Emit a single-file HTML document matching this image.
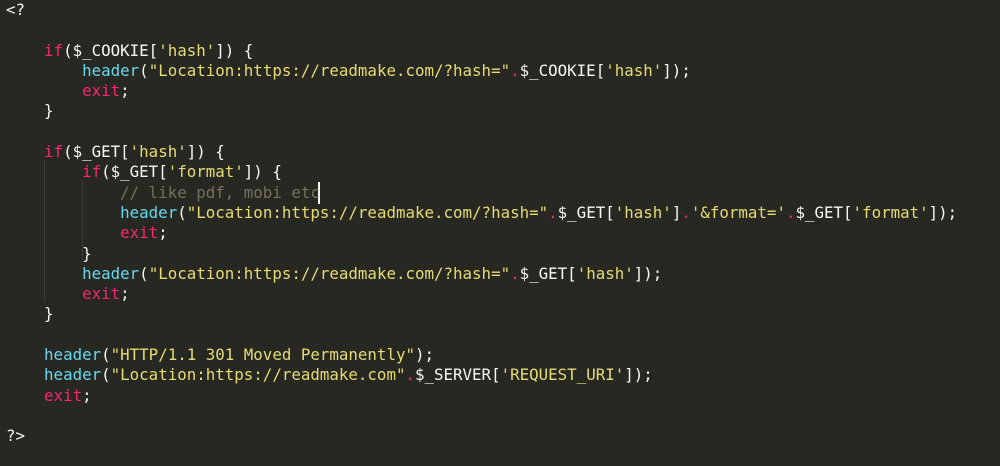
<!DOCTYPE html>
<html><head><style>
html,body{margin:0;padding:0;}
body{width:1000px;height:466px;background:#272822;overflow:hidden;position:relative;font-family:"DejaVu Sans Mono","Liberation Mono",monospace;font-size:15.8px;color:#f8f8f2;}
pre{margin:0;position:absolute;left:6px;top:0px;line-height:20.3px;font-family:inherit;white-space:pre;}
.k{color:#f92672}.f{color:#66d9ef}.s{color:#e6db74}.c{color:#75715e}
.g{position:absolute;width:1px;background:#3b3c35;}
</style></head><body>
<div class="g" style="left:44px;top:160px;height:142px"></div>
<div class="g" style="left:82px;top:180px;height:80px"></div>
<div class="g" style="left:318px;top:182px;height:22px;width:2px;background:#f8f8f2"></div>
<pre>&lt;?

    <span class="k">if</span>($_COOKIE[<span class="s">'hash'</span>]) {
        <span class="f">header</span>(<span class="s">"Location:https://readmake.com/?hash="</span><span class="k">.</span>$_COOKIE[<span class="s">'hash'</span>]);
        <span class="k">exit</span>;
    }

    <span class="k">if</span>($_GET[<span class="s">'hash'</span>]) {
        <span class="k">if</span>($_GET[<span class="s">'format'</span>]) {
            <span class="c">// like pdf, mobi etc</span>
            <span class="f">header</span>(<span class="s">"Location:https://readmake.com/?hash="</span><span class="k">.</span>$_GET[<span class="s">'hash'</span>]<span class="k">.</span><span class="s">'&amp;format='</span><span class="k">.</span>$_GET[<span class="s">'format'</span>]);
            <span class="k">exit</span>;
        }
        <span class="f">header</span>(<span class="s">"Location:https://readmake.com/?hash="</span><span class="k">.</span>$_GET[<span class="s">'hash'</span>]);
        <span class="k">exit</span>;
    }

    <span class="f">header</span>(<span class="s">"HTTP/1.1 301 Moved Permanently"</span>);
    <span class="f">header</span>(<span class="s">"Location:https://readmake.com"</span><span class="k">.</span>$_SERVER[<span class="s">'REQUEST_URI'</span>]);
    <span class="k">exit</span>;

?&gt;</pre>
</body></html>
